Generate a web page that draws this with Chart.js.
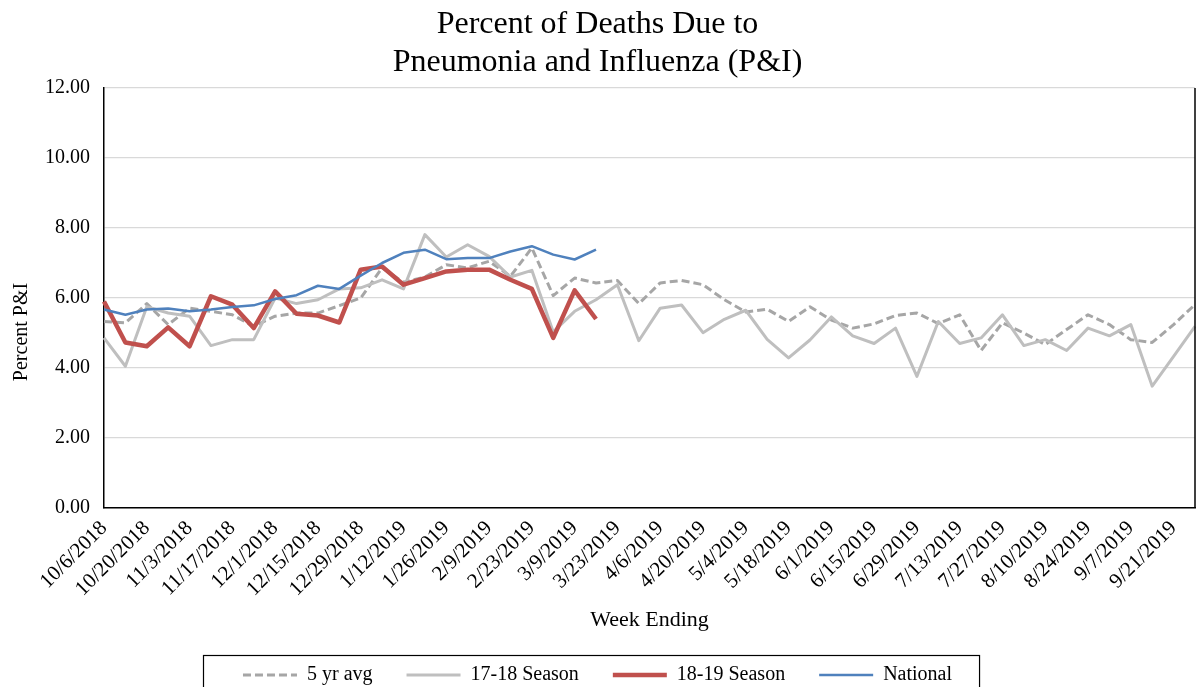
<!DOCTYPE html>
<html>
<head>
<meta charset="utf-8">
<script src="https://cdn.jsdelivr.net/npm/chart.js@4.4.0/dist/chart.umd.min.js"></script>
<style>
  html, body { margin: 0; padding: 0; background: #fff; overflow: hidden; }
</style>
</head>
<body>
<canvas id="piChart" width="1202" height="695"></canvas>
<script>
// week ending dates, 52 weeks
const weeks = [
  '10/6/2018', '10/13/2018', '10/20/2018', '10/27/2018', '11/3/2018', '11/10/2018',
  '11/17/2018', '11/24/2018', '12/1/2018', '12/8/2018', '12/15/2018', '12/22/2018',
  '12/29/2018', '1/5/2019', '1/12/2019', '1/19/2019', '1/26/2019', '2/2/2019',
  '2/9/2019', '2/16/2019', '2/23/2019', '3/2/2019', '3/9/2019', '3/16/2019',
  '3/23/2019', '3/30/2019', '4/6/2019', '4/13/2019', '4/20/2019', '4/27/2019',
  '5/4/2019', '5/11/2019', '5/18/2019', '5/25/2019', '6/1/2019', '6/8/2019',
  '6/15/2019', '6/22/2019', '6/29/2019', '7/6/2019', '7/13/2019', '7/20/2019',
  '7/27/2019', '8/3/2019', '8/10/2019', '8/17/2019', '8/24/2019', '8/31/2019',
  '9/7/2019', '9/14/2019', '9/21/2019', '9/28/2019'
];

const fiveYrAvg = [
  5.33, 5.29, 5.84, 5.24, 5.71, 5.62, 5.52, 5.19, 5.48, 5.57,
  5.57, 5.78, 6.00, 6.86, 6.45, 6.60, 6.95, 6.86, 7.05, 6.62,
  7.43, 6.07, 6.57, 6.43, 6.50, 5.84, 6.43, 6.50, 6.38, 5.95,
  5.60, 5.68, 5.33, 5.75, 5.37, 5.14, 5.26, 5.50, 5.57, 5.27,
  5.52, 4.50, 5.29, 5.00, 4.67, 5.10, 5.52, 5.24, 4.81, 4.73,
  5.24, 5.81
];

const season1718 = [
  4.86, 4.05, 5.75, 5.57, 5.48, 4.64, 4.81, 4.81, 6.00, 5.84,
  5.95, 6.26, 6.29, 6.52, 6.26, 7.81, 7.17, 7.52, 7.19, 6.60,
  6.79, 5.03, 5.62, 5.95, 6.38, 4.78, 5.71, 5.80, 5.01, 5.39,
  5.65, 4.82, 4.29, 4.80, 5.46, 4.92, 4.70, 5.14, 3.76, 5.33,
  4.70, 4.86, 5.52, 4.64, 4.81, 4.50, 5.14, 4.92, 5.24, 3.48,
  4.33, 5.19
];

const season1819 = [
  5.90, 4.73, 4.62, 5.16, 4.62, 6.05, 5.81, 5.14, 6.19, 5.55,
  5.50, 5.30, 6.81, 6.90, 6.38, 6.57, 6.76, 6.81, 6.81, 6.52,
  6.26, 4.86, 6.22, 5.40
];

const national = [
  5.67, 5.52, 5.67, 5.70, 5.62, 5.67, 5.74, 5.79, 5.97, 6.08,
  6.35, 6.26, 6.64, 7.00, 7.29, 7.38, 7.11, 7.14, 7.14, 7.33,
  7.48, 7.24, 7.10, 7.38
];

const yTicks = [0, 2, 4, 6, 8, 10, 12];

const serif = '"Liberation Serif", "Times New Roman", serif';

// right border of plot, box around legend, y title sits a bit low like excel does
const framePlugin = {
  id: 'frame',
  afterLayout(chart) {
    const ys = chart.scales.y;
    if (!ys._titlePatched) {
      const orig = ys.drawTitle;
      ys.drawTitle = function () {
        this.ctx.save();
        this.ctx.translate(0, 34);
        orig.apply(this, arguments);
        this.ctx.restore();
      };
      ys._titlePatched = true;
    }
  },
  afterDraw(chart) {
    const ctx = chart.ctx;
    const a = chart.chartArea;
    ctx.save();
    ctx.strokeStyle = '#000';
    ctx.lineWidth = 1.5;
    ctx.beginPath();
    ctx.moveTo(a.right, a.top);
    ctx.lineTo(a.right, a.bottom);
    ctx.stroke();

    const boxes = chart.legend.legendHitBoxes;
    if (boxes && boxes.length) {
      const first = boxes[0];
      const last = boxes[boxes.length - 1];
      const left = first.left - 40;
      const right = last.left + last.width + 27;
      const top = first.top - 10;
      ctx.lineWidth = 1.2;
      ctx.strokeRect(Math.round(left) + 0.5, Math.round(top) + 0.5, right - left, 80);
    }
    ctx.restore();
  }
};

const ctx = document.getElementById('piChart').getContext('2d');
new Chart(ctx, {
  type: 'line',
  data: {
    labels: weeks,
    datasets: [
      {
        label: '5 yr avg',
        data: fiveYrAvg,
        borderColor: '#A6A6A6',
        borderWidth: 3,
        borderDash: [8, 4],
        order: 4
      },
      {
        label: '17-18 Season',
        data: season1718,
        borderColor: '#BFBFBF',
        borderWidth: 3,
        order: 3
      },
      {
        label: '18-19 Season',
        data: season1819,
        borderColor: '#C0504D',
        borderWidth: 4.5,
        order: 2
      },
      {
        label: 'National',
        data: national,
        borderColor: '#4F81BD',
        borderWidth: 2.5,
        order: 1
      }
    ]
  },
  options: {
    responsive: false,
    animation: false,
    devicePixelRatio: 1,
    layout: { padding: { left: 0, right: 7, top: 0, bottom: 0 } },
    elements: {
      point: { radius: 0, hoverRadius: 0 },
      line: { tension: 0, fill: false, borderCapStyle: 'butt', borderJoinStyle: 'round' }
    },
    plugins: {
      tooltip: { enabled: false },
      title: {
        display: true,
        text: ['Percent of Deaths Due to', 'Pneumonia and Influenza (P&I)'],
        color: '#000',
        font: { family: serif, size: 32, weight: 'normal', lineHeight: 1.1875 },
        padding: { top: 6, bottom: 6 }
      },
      legend: {
        display: true,
        position: 'bottom',
        labels: {
          color: '#000',
          font: { family: serif, size: 20 },
          usePointStyle: true,
          pointStyle: 'line',
          pointStyleWidth: 54,
          padding: 34,
          sort: (a, b) => a.datasetIndex - b.datasetIndex,
          generateLabels: function (chart) {
            const items = Chart.defaults.plugins.legend.labels.generateLabels(chart);
            items.forEach(it => {
              const ds = chart.data.datasets[it.datasetIndex];
              it.lineDash = ds.borderDash || [];
              it.lineWidth = ds.borderWidth;
            });
            return items;
          }
        }
      }
    },
    scales: {
      x: {
        type: 'category',
        grid: { display: false },
        border: { display: true, color: '#000', width: 1.5 },
        ticks: {
          autoSkip: false,
          maxRotation: 45,
          minRotation: 45,
          padding: 0,
          color: '#000',
          font: { family: serif, size: 21 },
          callback: function (v, i) { return i % 2 === 0 ? weeks[i] : ''; }
        },
        title: {
          display: true,
          text: 'Week Ending',
          color: '#000',
          font: { family: serif, size: 22, lineHeight: 1.0 },
          padding: { top: 0, bottom: 0 }
        },
        afterFit: function (scale) {
          scale.height = 123;
          scale.paddingLeft = 0;
          scale.paddingRight = 7;
        }
      },
      y: {
        min: 0,
        max: 12,
        afterBuildTicks: function (scale) { scale.ticks = yTicks.map(v => ({ value: v })); },
        grid: { color: '#D9D9D9', lineWidth: 1.2, drawTicks: false },
        border: { display: true, color: '#000', width: 1.5 },
        ticks: {
          padding: 14,
          color: '#000',
          font: { family: serif, size: 20 },
          callback: v => Number(v).toFixed(2)
        },
        title: {
          display: true,
          text: 'Percent P&I',
          color: '#000',
          font: { family: serif, size: 20, lineHeight: 1.2 },
          padding: { top: 10, bottom: 0 }
        },
        afterFit: function (scale) { scale.width = 104; }
      }
    }
  },
  plugins: [framePlugin]
});
</script>
</body>
</html>
